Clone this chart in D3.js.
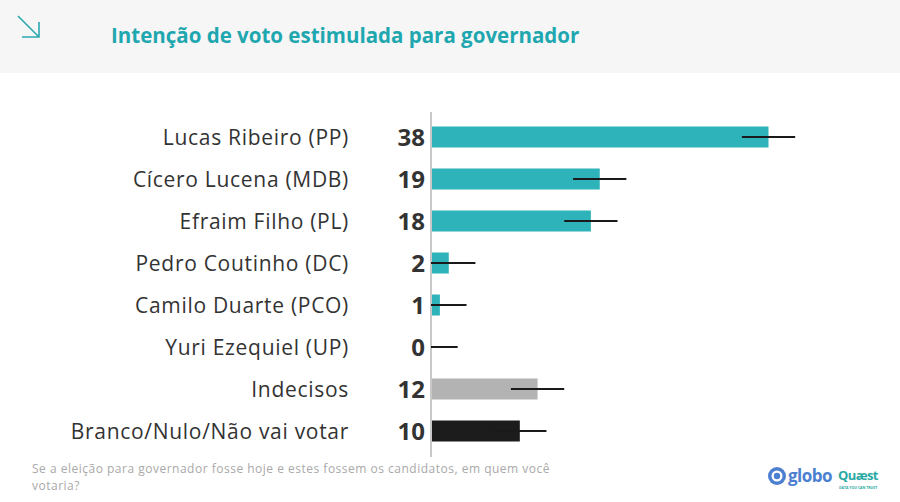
<!DOCTYPE html>
<html>
<head>
<meta charset="utf-8">
<script src="https://cdn.jsdelivr.net/npm/d3@7"></script>
<style>
  body { margin: 0; background: #fff; }
  svg text { font-family: "Open Sans", Lato, sans-serif; }
</style>
</head>
<body>
<div id="chart"></div>
<script>
// dados da pesquisa (%)
let candidates = ["Lucas Ribeiro (PP)", "Cícero Lucena (MDB)", "Efraim Filho (PL)", "Pedro Coutinho (DC)",
  "Camilo Duarte (PCO)", "Yuri Ezequiel (UP)", "Indecisos", "Branco/Nulo/Não vai votar"];
let votes = [38, 19, 18, 2, 1, 0, 12, 10];
let margin = 3; // margem de erro, pontos percentuais
let kinds = ["cand", "cand", "cand", "cand", "cand", "cand", "undecided", "blank"];

let title = "Intenção de voto estimulada para governador";
let note = ["Se a eleição para governador fosse hoje e estes fossem os candidatos, em quem você", "votaria?"];

let colors = {cand: "#2fb3bb", undecided: "#b3b3b3", blank: "#1c1c1c"};

var width = 900, height = 502;

var svg = d3.select("#chart").append("svg")
  .attr("width", width)
  .attr("height", height);

// cabeçalho
svg.append("rect").attr("width", width).attr("height", 73).attr("fill", "#f6f6f6");
svg.append("path")
  .attr("d", "M18,16 L39,37 M39,22 L39,37 L22,37")
  .attr("fill", "none").attr("stroke", "#2aa9b1").attr("stroke-width", 1.6);
svg.append("text")
  .attr("x", 111).attr("y", 43)
  .attr("fill", "#1fa7b0")
  .style("font-size", "20.5px").style("font-weight", 700)
  .text(title);

var x0 = 431;
var x = d3.scaleLinear().domain([0, 38]).range([x0, 768.5]);
var y = d3.scaleBand().domain(candidates).range([116, 452]).paddingInner(0.5).paddingOuter(0.25);

var rows = candidates.map(function(c, i) { return {name: c, v: votes[i], kind: kinds[i]}; });

svg.append("line")
  .attr("x1", x0).attr("x2", x0)
  .attr("y1", 112).attr("y2", 457)
  .attr("stroke", "#c8c8c8").attr("stroke-width", 2);

var g = svg.selectAll("g.row")
  .data(rows)
  .enter()
  .append("g")
  .attr("class", "row");

g.append("rect")
  .attr("x", x0 + 1)
  .attr("y", function(d) { return y(d.name); })
  .attr("width", function(d) { return Math.max(0, x(d.v) - x0 - 1); })
  .attr("height", y.bandwidth())
  .attr("fill", function(d) { return colors[d.kind]; });

g.append("line")
  .attr("x1", function(d) { return x(Math.max(0, d.v - margin)); })
  .attr("x2", function(d) { return x(d.v + margin); })
  .attr("y1", function(d) { return y(d.name) + y.bandwidth() / 2; })
  .attr("y2", function(d) { return y(d.name) + y.bandwidth() / 2; })
  .attr("stroke", "#1a1a1a").attr("stroke-width", 2);

g.append("text")
  .attr("x", 425)
  .attr("y", function(d) { return y(d.name) + y.bandwidth() / 2; })
  .attr("dy", "0.36em")
  .attr("text-anchor", "end")
  .attr("fill", "#333")
  .style("font-size", "24px").style("font-weight", 700)
  .text(function(d) { return d.v; });

g.append("text")
  .attr("x", 349)
  .attr("y", function(d) { return y(d.name) + y.bandwidth() / 2; })
  .attr("dy", "0.36em")
  .attr("text-anchor", "end")
  .attr("fill", "#333")
  .style("font-size", "21px")
  .style("letter-spacing", "0.7px")
  .text(function(d) { return d.name; });

// nota de rodapé
svg.selectAll("text.note")
  .data(note)
  .enter()
  .append("text")
  .attr("class", "note")
  .attr("x", 32)
  .attr("y", function(d, i) { return 473 + i * 16.5; })
  .attr("fill", "#a9a9a9")
  .style("font-size", "12px")
  .style("letter-spacing", "0.5px")
  .text(function(d) { return d; });

// logos
var logo = svg.append("g").attr("transform", "translate(777,476)");
logo.append("circle").attr("r", 9).attr("fill", "#4c7fd0");
logo.append("circle").attr("r", 5.5).attr("fill", "#fff");
logo.append("circle").attr("r", 3.2).attr("fill", "#4c7fd0");
logo.append("text").attr("x", 11).attr("y", 6).attr("fill", "#4c7fd0")
  .style("font-size", "17px").style("font-weight", 700).style("letter-spacing", "-0.5px").text("globo");
var q = svg.append("g").attr("transform", "translate(838,476)");
q.append("text").attr("x", 0).attr("y", 4).attr("fill", "#2aa9a4")
  .style("font-size", "13px").style("font-weight", 700).style("letter-spacing", "-0.6px").text("Quæst");
q.append("text").attr("x", 1).attr("y", 12.5).attr("fill", "#2aa9a4")
  .style("font-size", "3.5px").style("font-weight", 700).text("DATA YOU CAN TRUST");
</script>
</body>
</html>
